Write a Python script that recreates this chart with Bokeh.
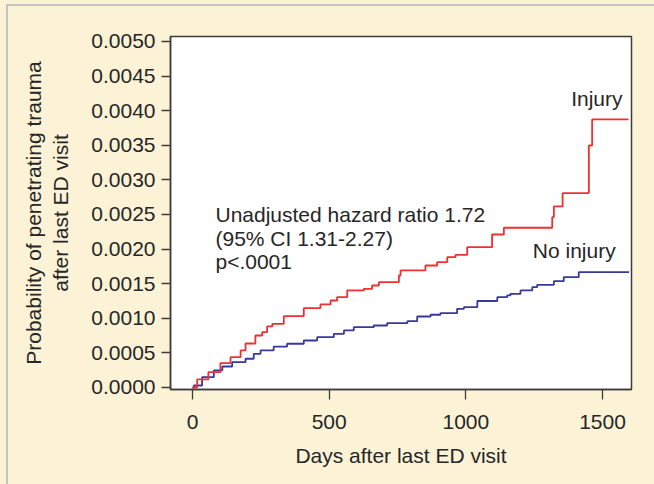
from bokeh.plotting import figure
from bokeh.models import Range1d, FixedTicker, PrintfTickFormatter, Label
from bokeh.embed import file_html
from bokeh.resources import INLINE

# Injury (red) cumulative probability steps
inj_days = [0, 17, 58, 102, 139, 176, 194, 230, 255, 273, 292, 334, 407, 468, 505, 529,
            566, 627, 657, 682, 755, 761, 852, 895, 932, 962, 1005, 1096, 1139, 1316,
            1322, 1354, 1450, 1462, 1595]
inj_prob = [0.0, 0.000116, 0.000221, 0.000351, 0.000438, 0.000535, 0.000636, 0.000751,
            0.000799, 0.000882, 0.000920, 0.00103, 0.001146, 0.0012, 0.001257, 0.001305,
            0.001402, 0.001426, 0.001474, 0.001522, 0.001618, 0.001691, 0.001763, 0.001811,
            0.001883, 0.001915, 0.002027, 0.002211, 0.002308, 0.002461, 0.002616, 0.002808,
            0.003497, 0.003873, 0.003873]

# No injury (blue)
noinj_days = [0, 5, 35, 78, 109, 145, 194, 224, 249, 297, 346, 407, 456, 517, 554, 590,
              663, 712, 786, 822, 871, 907, 968, 993, 1042, 1115, 1151, 1163, 1200, 1243,
              1261, 1322, 1358, 1413, 1597]
noinj_prob = [0.0, 0.000029, 0.000149, 0.000246, 0.000303, 0.000366, 0.000415, 0.000487,
              0.000535, 0.000592, 0.000632, 0.000679, 0.000727, 0.000776, 0.000824, 0.000871,
              0.000896, 0.000929, 0.000958, 0.001026, 0.001051, 0.001074, 0.001137, 0.00116,
              0.00125, 0.001305, 0.00133, 0.001354, 0.001402, 0.00145, 0.001484, 0.001536,
              0.001594, 0.001666, 0.001666]

x_ticks = [0, 500, 1000, 1500]
y_ticks = [0.0, 0.0005, 0.0010, 0.0015, 0.0020, 0.0025, 0.0030, 0.0035, 0.0040, 0.0045, 0.0050]

annotation_lines = ["Unadjusted hazard ratio 1.72", "(95% CI 1.31-2.27)", "p<.0001"]

FONT = "Liberation Sans"
TXT = "#262626"
CREAM = "#FCF2D6"
RED = "#EE3030"
BLUE = "#38389C"

p = figure(width=654, height=484, output_backend="svg", toolbar_location=None,
           x_range=Range1d(-80.5, 1606), y_range=Range1d(-0.000029, 0.005072),
           min_border_left=170, min_border_right=23, min_border_top=36, min_border_bottom=95)
p.background_fill_color = "white"
p.border_fill_color = CREAM
p.outline_line_color = "#3c3c3c"
p.outline_line_width = 1.5
p.grid.visible = False

p.step(noinj_days, noinj_prob, mode="after", line_color=BLUE, line_width=1.8)
p.step(inj_days, inj_prob, mode="after", line_color=RED, line_width=1.8)

for ax in (p.xaxis[0], p.yaxis[0]):
    ax.axis_line_color = "#3c3c3c"
    ax.axis_line_width = 1.5
    ax.major_tick_line_color = "#3c3c3c"
    ax.major_tick_line_width = 1.3
    ax.minor_tick_line_color = None
    ax.major_tick_in = 0
    ax.major_label_text_font = FONT
    ax.major_label_text_font_size = "21px"
    ax.major_label_text_color = TXT
    ax.axis_label_text_font = FONT
    ax.axis_label_text_font_size = "21px"
    ax.axis_label_text_font_style = "normal"
    ax.axis_label_text_color = TXT

p.xaxis[0].ticker = FixedTicker(ticks=x_ticks)
p.xaxis[0].major_tick_out = 10
p.xaxis[0].major_label_standoff = 15
p.xaxis[0].axis_label = "Days after last ED visit"
p.xaxis[0].axis_label_standoff = 12

p.yaxis[0].ticker = FixedTicker(ticks=y_ticks)
p.yaxis[0].formatter = PrintfTickFormatter(format="%.4f")
p.yaxis[0].major_tick_out = 9
p.yaxis[0].major_label_standoff = 6
p.yaxis[0].axis_label = "Probability of penetrating trauma\nafter last ED visit"
p.yaxis[0].axis_label_standoff = 16

def add_label(x, y, text, align="left"):
    p.add_layout(Label(x=x, y=y, text=text, text_font=FONT, text_font_size="21px",
                       text_color=TXT, text_align=align, text_baseline="alphabetic"))

add_label(84, 0.0025, annotation_lines[0])
add_label(84, 0.00216, annotation_lines[1])
add_label(84, 0.001821, annotation_lines[2])
add_label(1573, 0.004176, "Injury", align="right")
add_label(1548, 0.00198, "No injury", align="right")

html = file_html(p, INLINE)
style = ("<style>html,body{background:%s;margin:0;padding:0;overflow:hidden;}"
         ".frame-edge{position:fixed;left:6px;top:4px;right:0;bottom:0;"
         "border-left:2px solid #c4c4c4;border-top:2px solid #c4c4c4;pointer-events:none;}</style>" % CREAM)
html = html.replace("</head>", style + "</head>", 1)
html = html.replace("</body>", '<div class="frame-edge"></div></body>', 1)
open("out.html", "w").write(html)
